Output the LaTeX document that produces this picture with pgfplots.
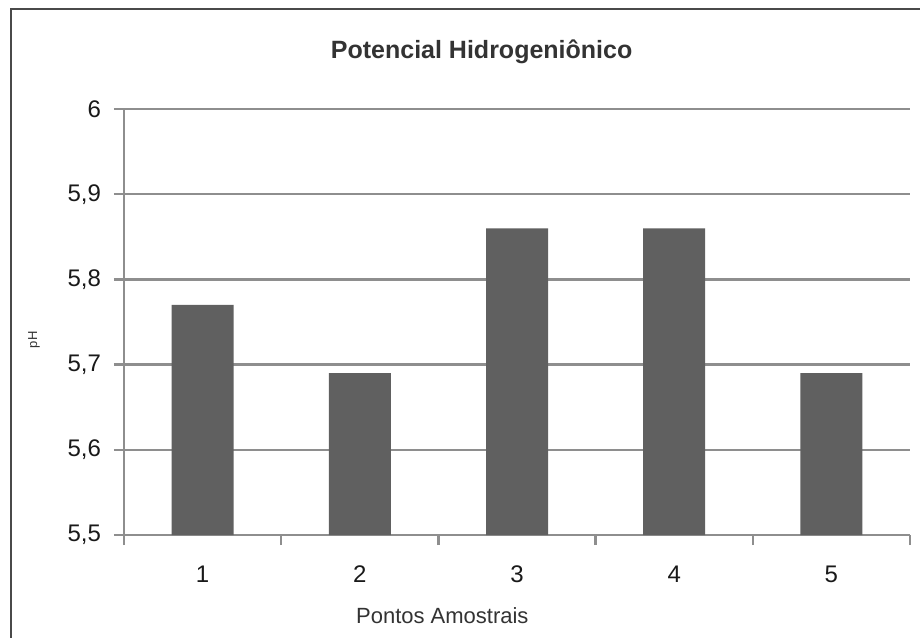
\documentclass[border=0pt]{standalone}
\usepackage{fontspec}
\setmainfont{Liberation Sans}
\usepackage{pgfplots}
\pgfplotsset{compat=1.18}
\definecolor{barc}{HTML}{606060}
\definecolor{gridc}{HTML}{8E8E8E}
\definecolor{framec}{HTML}{4A4A4A}
\definecolor{textc}{HTML}{333333}
\begin{document}
\begin{tikzpicture}
% 1 px of the reference = 0.5pt; axis box corner at (0,0)
\useasboundingbox[fill=white] (-62pt,-51pt) rectangle (398pt,267.5pt);
\draw[framec, line width=1.1pt] (-56.5pt,-80pt) rectangle (430pt,263pt);
\begin{axis}[
    scale only axis,
    width=393pt, height=213pt,
    at={(0,0)}, anchor=south west,
    ybar, bar width=31pt,
    xmin=-0.5, xmax=4.5,
    ymin=5.5, ymax=6,
    ytick={5.5,5.6,...,6.01},
    xtick={-0.5,0.5,...,4.5},
    xticklabels={},
    extra x ticks={0,1,2,3,4},
    extra x tick labels={1,2,3,4,5},
    extra x tick style={major tick length=0pt, xticklabel style={yshift=-12pt}},
    axis lines=left,
    axis line style={-, gridc, line width=1.2pt},
    tick style={gridc, line width=1.2pt},
    tick align=outside,
    major tick length=5pt,
    ymajorgrids,
    grid style={gridc, line width=1.2pt},
    /pgf/number format/.cd, use comma, fixed, precision=1, assume math mode=true,
    /pgfplots/.cd,
    ticklabel style={font=\fontsize{12}{14}\selectfont, text=black!90},
    yticklabel style={xshift=-3pt},
    title={\textbf{Potencial Hidrogeniônico}},
    title style={at={(rel axis cs:0.455,1.107)}, anchor=center, yshift=0pt,
        font=\fontsize{12.5}{15}\selectfont, text=textc},
    xlabel={Pontos Amostrais},
    xlabel style={at={(rel axis cs:0.405,-0.19)}, anchor=center,
        font=\fontsize{11}{13}\selectfont, text=textc},
    ylabel={pH},
    ylabel style={at={(rel axis cs:-0.1145,0.458)}, anchor=center,
        font=\fontsize{6.5}{8}\selectfont, text=textc},
]
\addplot[fill=barc, draw=none] coordinates {(0,5.77) (1,5.69) (2,5.86) (3,5.86) (4,5.69)};
\end{axis}
\end{tikzpicture}
\end{document}
